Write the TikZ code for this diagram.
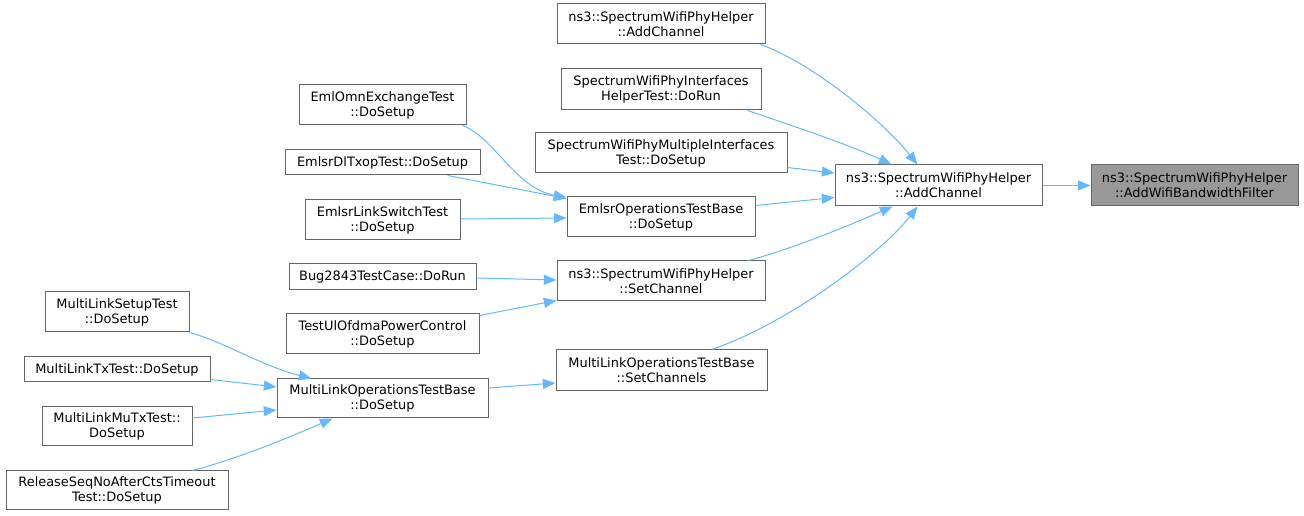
\documentclass[tikz,border=0pt]{standalone}
\usepackage{fontspec}
\setmainfont{DejaVu Sans}
\usetikzlibrary{arrows.meta}
\definecolor{edgeblue}{HTML}{63B8FF}
\definecolor{boxline}{HTML}{666666}
\definecolor{tgtfill}{HTML}{999999}
\newcommand\bx[7][]{\node[box,#1,minimum width={(#4-#2)*0.75pt},minimum height={(#5-#3)*0.75pt}] (#6) at ({(#2+#4)/2},{(#3+#5)/2}) {#7};}
\tikzset{
  box/.style={draw=boxline,line width=0.75pt,fill=white,inner sep=0pt,align=center,
    font=\fontsize{9.7}{11.25}\selectfont},
  tgt/.style={fill=tgtfill},
  call/.style={draw=edgeblue,line width=0.75pt,-{Triangle[length=9.5pt,width=7.5pt]}},
}
\begin{document}
\begin{tikzpicture}[x=0.75pt,y=-0.75pt]
\useasboundingbox (0,0) rectangle (1304,516);
% right columns
\bx[tgt]{1091}{165}{1298}{206}{tgt}{ns3::SpectrumWifiPhyHelper\\::AddWifiBandwidthFilter}
\bx{835}{165}{1042}{206}{addch}{ns3::SpectrumWifiPhyHelper\\::AddChannel}
% middle column
\bx{557}{4}{765}{44}{sadd}{ns3::SpectrumWifiPhyHelper\\::AddChannel}
\bx{561}{69}{761}{110}{ifh}{SpectrumWifiPhyInterfaces\\HelperTest::DoRun}
\bx{535}{133}{787}{173}{mit}{SpectrumWifiPhyMultipleInterfaces\\Test::DoSetup}
\bx{567}{197}{755}{237}{eob}{EmlsrOperationsTestBase\\::DoSetup}
\bx{557}{261}{765}{301}{setch}{ns3::SpectrumWifiPhyHelper\\::SetChannel}
\bx{556}{350}{767}{391}{setchs}{MultiLinkOperationsTestBase\\::SetChannels}
% second column
\bx{299}{85}{466}{125}{emlomn}{EmlOmnExchangeTest\\::DoSetup}
\bx{285}{150}{480}{175}{dltxop}{EmlsrDlTxopTest::DoSetup}
\bx{305}{200}{460}{240}{linksw}{EmlsrLinkSwitchTest\\::DoSetup}
\bx{289}{264}{476}{290}{bug}{Bug2843TestCase::DoRun}
\bx{286}{314}{479}{354}{ulofdma}{TestUlOfdmaPowerControl\\::DoSetup}
\bx{277}{379}{488}{418}{mlotb}{MultiLinkOperationsTestBase\\::DoSetup}
% left column
\bx{45}{292}{189}{332}{mlsetup}{MultiLinkSetupTest\\::DoSetup}
\bx{24}{357}{210}{382}{mltx}{MultiLinkTxTest::DoSetup}
\bx{42}{407}{192}{446}{mlmutx}{MultiLinkMuTxTest::\\DoSetup}
\bx{6}{471}{228}{510}{relseq}{ReleaseSeqNoAfterCtsTimeout\\Test::DoSetup}
% edges
\draw[call] (addch.east) -- (tgt.west);
\draw[call] ([shift={(-5,0)}]sadd.south east) .. controls (810,62) and (880,118) .. ([shift={(83,0)}]addch.north west);
\draw[call] ([shift={(-14,0)}]ifh.south east) .. controls (790,125) and (850,145) .. ([shift={(57,0)}]addch.north west);
\draw[call] ([shift={(0,-6)}]mit.south east) -- ([shift={(0,-12.5)}]addch.west);
\draw[call] ([shift={(0,9)}]eob.north east) -- ([shift={(0,-9)}]addch.south west);
\draw[call] ([shift={(-17,0)}]setch.north east) .. controls (795,248) and (850,225) .. ([shift={(58,0)}]addch.south west);
\draw[call] ([shift={(156,0)}]setchs.north west) .. controls (785,325) and (880,255) .. ([shift={(83,0)}]addch.south west);
\draw[call] ([shift={(-4,0)}]emlomn.south east) .. controls (495,138) and (515,188) .. ([shift={(0,1)}]eob.north west);
\draw[call] ([shift={(-33,0)}]dltxop.south east) -- ([shift={(0,2)}]eob.north west);
\draw[call] ([shift={(0,-1)}]linksw.east) -- ([shift={(0,1)}]eob.west);
\draw[call] ([shift={(0,1)}]bug.east) -- ([shift={(0,-1)}]setch.west);
\draw[call] ([shift={(0,2)}]ulofdma.north east) -- ([shift={(0,-1)}]setch.south west);
\draw[call] ([shift={(0,-10.5)}]mlotb.east) -- ([shift={(0,12.5)}]setchs.west);
\draw[call] (mlsetup.south east) .. controls (222,341) and (262,366) .. ([shift={(35,0)}]mlotb.north west);
\draw[call] ([shift={(0,-3)}]mltx.south east) -- ([shift={(0,-11.5)}]mlotb.west);
\draw[call] ([shift={(0,-8.5)}]mlmutx.east) -- ([shift={(0,11.5)}]mlotb.west);
\draw[call] ([shift={(-36,0)}]relseq.north east) .. controls (240,458) and (290,437) .. ([shift={(56,0)}]mlotb.south west);
\end{tikzpicture}
\end{document}
